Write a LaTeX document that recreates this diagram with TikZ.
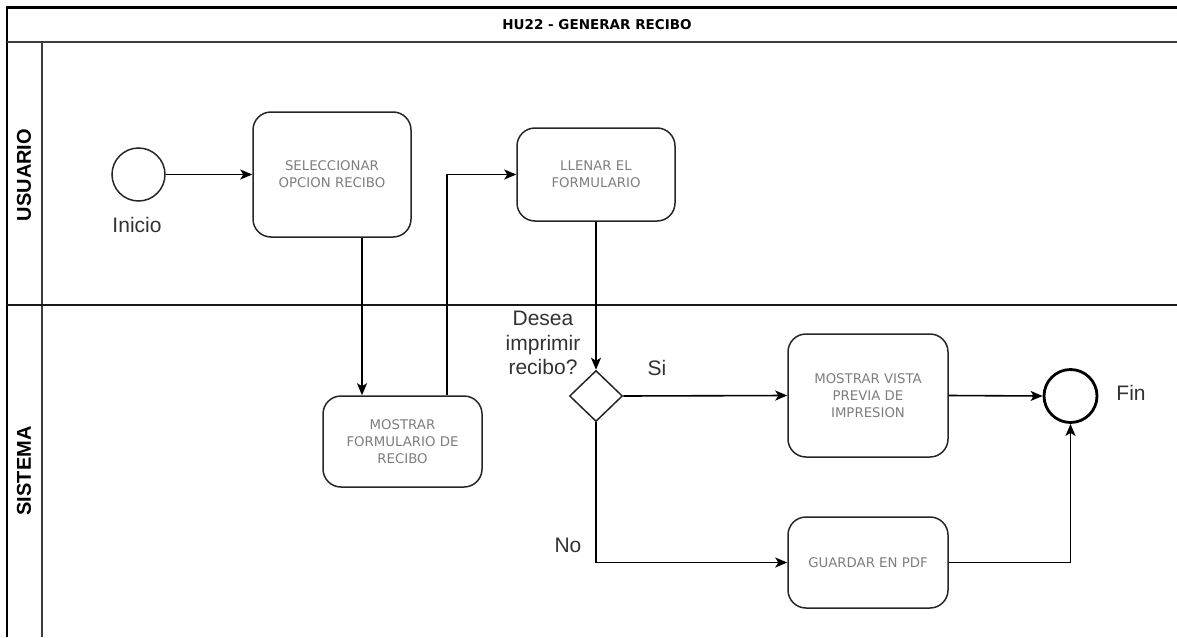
\documentclass[tikz,border=0pt]{standalone}
\usepackage{fontspec}
\setmainfont{Liberation Sans}
\newfontfamily\boxfont{DejaVu Sans}
\usetikzlibrary{arrows.meta,shapes.geometric}

\definecolor{linegray}{RGB}{60,60,60}
\definecolor{boxtext}{RGB}{125,125,125}
\definecolor{labeltext}{RGB}{50,50,50}

\tikzset{
  poolline/.style={line width=2pt, draw=linegray},
  task/.style={draw=black!85, line width=1.5pt, rounded corners=18pt,
    minimum width=158pt, inner sep=0pt, align=center, text=boxtext,
    font=\boxfont\fontsize{13.3}{17}\selectfont},
  gateway/.style={shape=diamond, draw=black!85, line width=1.5pt,
    minimum width=53pt, minimum height=51pt, inner sep=0pt},
  startev/.style={circle, draw=black!85, line width=1.5pt, minimum size=53pt, inner sep=0pt},
  endev/.style={circle, draw=black, line width=2.8pt, minimum size=53pt, inner sep=0pt},
  flow/.style={draw=black, line width=1.6pt, -{Stealth[length=12pt,width=10pt,inset=3pt]}},
  lbl/.style={text=labeltext, font=\fontsize{21}{24.5}\selectfont, align=center, inner sep=0pt},
  lanetitle/.style={rotate=90, font=\bfseries\fontsize{20}{24}\selectfont, inner sep=0pt},
}

\begin{document}
\begin{tikzpicture}[x=1pt, y=-1pt]
  \useasboundingbox (0,0) rectangle (1177,637);

  % pool frame, title band and lanes
  \draw[line width=2.2pt, draw=black] (7,637) -- (7,7.5) -- (1177,7.5);
  \draw[poolline] (7,42) -- (1177,42);
  \draw[poolline] (41.5,42) -- (41.5,637);
  \draw[line width=2pt, draw=black!90] (7,305) -- (1177,305);

  \node[font=\boxfont\bfseries\fontsize{13.5}{16}\selectfont, inner sep=0pt] (title) at (597,25) {HU22 - GENERAR RECIBO};
  \node[lanetitle] (usuario) at (24,175) {USUARIO};
  \node[lanetitle] (sistema) at (24,471) {SISTEMA};

  % events, tasks and gateway
  \node[startev] (inicio) at (138.5,174.5) {};
  \node[lbl] (inicioLbl) at (137,225) {Inicio};

  \node[task, minimum height=125pt] (sel) at (332,174.5) {SELECCIONAR\\OPCION RECIBO};
  \node[task, minimum height=93pt] (llenar) at (596,174.5) {LLENAR EL\\FORMULARIO};
  \node[task, minimum width=159pt, minimum height=91pt] (mform) at (402.5,441.5) {MOSTRAR\\FORMULARIO DE\\RECIBO};

  \node[gateway] (dec) at (596,396) {};
  \node[lbl] (decLbl) at (543,343) {Desea\\imprimir\\recibo?};
  \node[lbl] (siLbl) at (657,368) {Si};
  \node[lbl] (noLbl) at (568,545) {No};

  \node[task, minimum width=160pt, minimum height=123pt] (vista) at (868,395.5) {MOSTRAR VISTA\\PREVIA DE\\IMPRESION};
  \node[task, minimum width=160pt, minimum height=91pt] (guardar) at (868,562.5) {GUARDAR EN PDF};

  \node[endev] (fin) at (1070.5,396) {};
  \node[lbl] (finLbl) at (1131,393) {Fin};

  % sequence flows
  \draw[flow] (inicio) -- (sel);
  \draw[flow] ([xshift=30pt]sel.south) -- ([xshift=30pt]sel.south |- mform.north);
  \draw[flow] ([xshift=44.5pt]mform.north) |- (llenar.west);
  \draw[flow] (llenar.south) -- (dec.north);
  \draw[flow] (dec.east) -- (vista.west);
  \draw[flow] (vista.east) -- (fin.west);
  \draw[flow] (dec.south) |- (guardar.west);
  \draw[flow] (guardar.east) -| (fin.south);
\end{tikzpicture}
\end{document}
